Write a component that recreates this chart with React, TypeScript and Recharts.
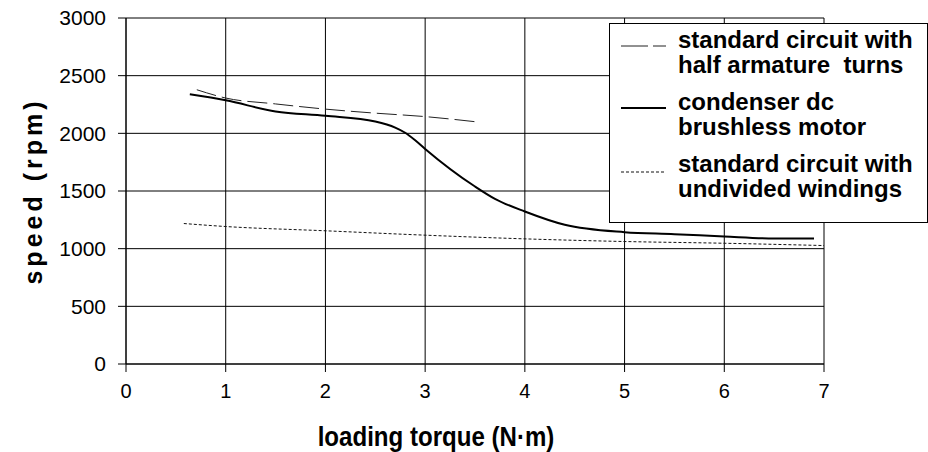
import React from "react";
import { LineChart, Line, XAxis, YAxis, CartesianGrid } from "recharts";

const FONT = "'Liberation Sans', Arial, sans-serif";

// standard circuit with half armature turns
const halfTorque = [0.71, 1.0, 1.5, 2.0, 2.5, 3.0, 3.51];
const halfSpeed = [2378, 2306, 2255, 2210, 2175, 2145, 2100];

// condenser dc brushless motor
const condTorque = [0.64, 1.0, 1.5, 2.0, 2.5, 2.7, 2.8, 2.9, 3.0, 3.5, 3.7, 4.0, 4.4, 5.0, 5.5, 6.0, 6.5, 6.9];
const condSpeed = [2338, 2286, 2190, 2153, 2103, 2050, 2005, 1940, 1865, 1539, 1432, 1322, 1207, 1143, 1126, 1105, 1088, 1088];

// standard circuit with undivided windings
const undivTorque = [0.58, 1, 2, 3, 4, 5, 6, 7];
const undivSpeed = [1218, 1192, 1155, 1117, 1085, 1062, 1047, 1027];

const xTicks = [0, 1, 2, 3, 4, 5, 6, 7];
const yTicks = [0, 500, 1000, 1500, 2000, 2500, 3000];

const toPoints = (xs: number[], ys: number[]) => xs.map((x, i) => ({ x, y: ys[i] }));

const series = [
  {
    key: "half",
    lines: ["standard circuit with", "half armature  turns"],
    data: toPoints(halfTorque, halfSpeed),
    stroke: "#222",
    width: 1,
    dash: "20 6",
    legendDash: "27 5",
  },
  {
    key: "cond",
    lines: ["condenser dc", "brushless motor"],
    data: toPoints(condTorque, condSpeed),
    stroke: "#000",
    width: 2,
    dash: undefined as string | undefined,
    legendDash: undefined as string | undefined,
  },
  {
    key: "undiv",
    lines: ["standard circuit with", "undivided windings"],
    data: toPoints(undivTorque, undivSpeed),
    stroke: "#111",
    width: 1,
    dash: "3 2",
    legendDash: "3 2",
  },
];

function LegendBox() {
  return (
    <div
      style={{
        position: "absolute",
        left: 609,
        top: 23,
        width: 317,
        height: 195,
        border: "1px solid #000",
        background: "#fff",
        fontFamily: FONT,
        fontWeight: "bold",
        fontSize: 24,
        lineHeight: "25px",
        color: "#000",
        paddingTop: 3,
        boxSizing: "content-box",
      }}
    >
      {series.map((s, i) => (
        <div key={s.key} style={{ display: "flex", alignItems: "flex-start", marginBottom: 12 }}>
          <svg width={68} height={25} style={{ flex: "none" }}>
            <line
              x1={11}
              x2={56}
              y1={i === 2 ? 21 : 19}
              y2={i === 2 ? 21 : 19}
              stroke={s.stroke}
              strokeWidth={s.width}
              strokeDasharray={s.legendDash}
            />
          </svg>
          <div>
            {s.lines.map((t) => (
              <div key={t} style={{ whiteSpace: "pre" }}>
                {t}
              </div>
            ))}
          </div>
        </div>
      ))}
    </div>
  );
}

const XTitle = (props: any) => {
  const vb = props.viewBox || {};
  const cx = vb.x + vb.width / 2 - 39;
  const y = 446;
  return (
    <text
      x={0}
      y={0}
      transform={`translate(${cx},${y}) scale(0.86,1)`}
      textAnchor="middle"
      fill="#000"
      fontSize={28}
      fontWeight="bold"
      fontFamily={FONT}
    >
      loading torque (N·m)
    </text>
  );
};

const YTitle = (props: any) => {
  const vb = props.viewBox || {};
  const cy = vb.y + vb.height / 2;
  return (
    <text
      x={0}
      y={0}
      transform={`translate(42,${cy}) rotate(-90)`}
      textAnchor="middle"
      fill="#000"
      fontSize={25}
      fontWeight="bold"
      fontFamily={FONT}
      letterSpacing={4}
    >
      speed (rpm)
    </text>
  );
};

export default function App() {
  return (
    <div style={{ position: "absolute", left: 0, top: 0, width: 928, height: 452, background: "#fff" }}>
      <LineChart width={928} height={452} margin={{ top: 18, right: 104, bottom: 0, left: 0 }}>
        <CartesianGrid stroke="#000" strokeWidth={1} />
        <XAxis
          type="number"
          dataKey="x"
          domain={[0, 7]}
          ticks={xTicks}
          interval={0}
          height={88}
          tickSize={8}
          tickMargin={12}
          stroke="#000"
          tick={{ fill: "#000", fontSize: 20, fontFamily: FONT }}
          label={<XTitle />}
        />
        <YAxis
          type="number"
          domain={[0, 3000]}
          ticks={yTicks}
          interval={0}
          width={126}
          tickSize={8}
          tickMargin={12}
          stroke="#000"
          tick={{ fill: "#000", fontSize: 21, fontFamily: FONT }}
          label={<YTitle />}
        />
        {series.map((s) => (
          <Line
            key={s.key}
            data={s.data}
            dataKey="y"
            name={s.lines.join(" ")}
            type="monotone"
            stroke={s.stroke}
            strokeWidth={s.width}
            strokeDasharray={s.dash}
            dot={false}
            activeDot={false}
            isAnimationActive={false}
          />
        ))}
      </LineChart>
      <LegendBox />
    </div>
  );
}
